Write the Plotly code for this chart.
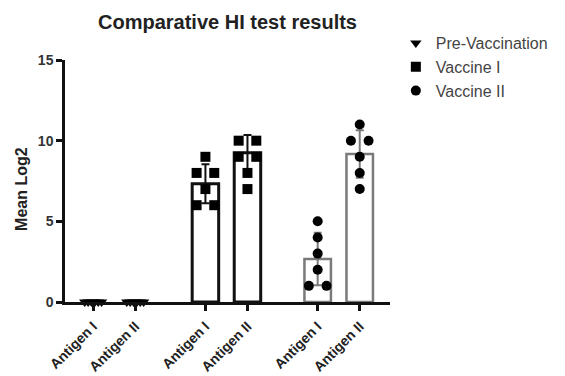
import plotly.graph_objects as go
import numpy as np

# ---------------- data ----------------
groups = ["Pre-Vaccination", "Vaccine I", "Vaccine II"]
antigens = ["Antigen I", "Antigen II"]

pre_ag1 = [0, 0, 0, 0, 0, 0]
pre_ag2 = [0, 0, 0, 0, 0, 0]
v1_ag1 = [9, 8, 8, 7, 6, 6]
v1_ag2 = [10, 10, 9, 9, 8, 7]
v2_ag1 = [5, 4, 3, 2, 1, 1]
v2_ag2 = [11, 10, 10, 9, 8, 7]

pre_mean = [0, 0]
v1_mean = [7.33, 9.25]
v2_mean = [2.67, 9.17]
pre_sd = [0, 0]
v1_sd = [1.21, 1.1]
v2_sd = [1.63, 1.47]

y_ticks = [0, 5, 10, 15]

# ---------------- layout helpers ----------------
GROUP_STEP = 2.67
def positions(g):
    return [g * GROUP_STEP + i for i in range(len(antigens))]

def spread(values, center):
    xs = []
    vals = list(values)
    seen = {}
    counts = {v: vals.count(v) for v in set(vals)}
    for v in vals:
        k = counts[v]
        j = seen.get(v, 0)
        seen[v] = j + 1
        if k == 1:
            off = 0.0
        elif k == 2:
            off = -0.21 if j == 0 else 0.21
        else:
            off = np.linspace(-0.2, 0.2, k)[j]
        xs.append(center + off)
    return xs

series = [
    dict(name=groups[0], pts=[pre_ag1, pre_ag2], mean=pre_mean, sd=pre_sd,
         symbol="triangle-down", line="rgba(0,0,0,0)", ecol="rgba(0,0,0,0)", lw=0),
    dict(name=groups[1], pts=[v1_ag1, v1_ag2], mean=v1_mean, sd=v1_sd,
         symbol="square", line="#111111", ecol="#111111", lw=3),
    dict(name=groups[2], pts=[v2_ag1, v2_ag2], mean=v2_mean, sd=v2_sd,
         symbol="circle", line="#7a7a7a", ecol="#7a7a7a", lw=2.5),
]

fig = go.Figure()
all_pos = []
all_text = []
for g, s in enumerate(series):
    pos = positions(g)
    all_pos += pos
    all_text += antigens
    fig.add_trace(go.Bar(
        x=pos, y=s["mean"], width=0.63,
        marker=dict(color="white", line=dict(color=s["line"], width=s["lw"])),
        error_y=dict(type="data", array=s["sd"], visible=True,
                     color=s["ecol"], thickness=2, width=4),
        showlegend=False, hoverinfo="skip",
    ))
for g, s in enumerate(series):
    pos = positions(g)
    xs, ys = [], []
    for p, vals in zip(pos, s["pts"]):
        xs += spread(vals, p)
        ys += list(vals)
    fig.add_trace(go.Scatter(
        x=xs, y=ys, mode="markers", name=s["name"],
        marker=dict(symbol=s["symbol"], size=10, color="black"),
        cliponaxis=False,
    ))

FONT = "Liberation Sans, Arial, sans-serif"
fig.update_layout(
    width=565, height=376,
    margin=dict(l=65, r=168, t=60, b=74),
    paper_bgcolor="white", plot_bgcolor="white",
    font=dict(family=FONT, color="#222222"),
    barmode="overlay",
    title=dict(text="<b>Comparative HI test results</b>", x=0.5, xref="paper",
               y=1 - 22 / 376, yref="container", yanchor="middle", xanchor="center",
               font=dict(size=20, color="#222222")),
    showlegend=True,
    legend=dict(x=1.018, xanchor="left", y=1.14, yanchor="top",
                font=dict(size=16, color="#444444"), tracegroupgap=0,
                bgcolor="rgba(0,0,0,0)", itemclick=False),
    xaxis=dict(range=[-0.67, 7.06], tickvals=all_pos, ticktext=all_text,
               tickangle=-45, showline=True, linecolor="#111111", linewidth=2.5,
               ticks="outside", ticklen=6, tickwidth=2.5, tickcolor="#111111",
               showgrid=False, zeroline=False, ticklabelstandoff=2, automargin=False,
               tickfont=dict(size=14, family=FONT, color="#222222", weight="bold")),
    yaxis=dict(range=[0, 15], tickvals=y_ticks, showline=True, linecolor="#111111",
               linewidth=2.5, ticks="outside", ticklen=6, tickwidth=2.5, automargin=False,
               tickcolor="#111111", showgrid=False, zeroline=False,
               tickfont=dict(size=14, family=FONT, color="#333333", weight="bold")),
    annotations=[dict(text="<b>Mean Log2</b>", textangle=-90, xref="paper", yref="paper",
                      x=(20 - 65) / 332, y=(302 - 189) / 242, xanchor="center",
                      yanchor="middle", showarrow=False,
                      font=dict(size=16, color="#222222"))],
)

fig.write_html("out.html")
